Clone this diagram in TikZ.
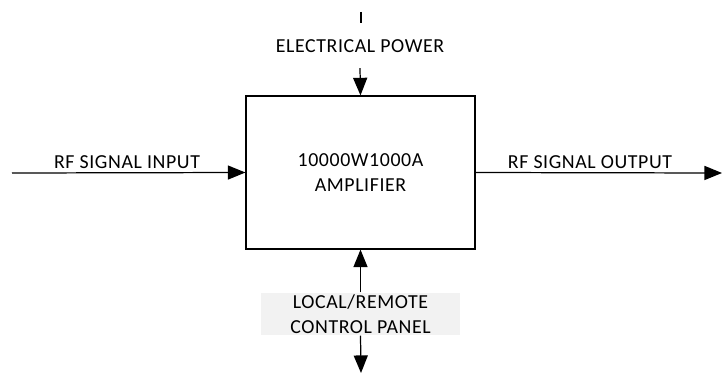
\documentclass[tikz,border=0pt]{standalone}
\usepackage{fontspec}
\setmainfont[LetterSpace=3]{Carlito}
\usetikzlibrary{arrows.meta}
\definecolor{panelgray}{HTML}{F2F2F2}

\begin{document}
\begin{tikzpicture}[x=0.02cm,y=-0.02cm,line width=0.7pt,
  font=\fontsize{11.3}{14.2}\selectfont,
  flow/.style={-{Triangle[length=10pt,width=8pt]}},
  blockbox/.style={draw,minimum width=4.58cm,minimum height=3.06cm,align=center,inner sep=0pt},
  label/.style={inner sep=0pt,align=center}]
\useasboundingbox (0,0) rectangle (722,375);
\coordinate (tickA) at (361,12); \coordinate (tickB) at (361,23);
\coordinate (inL) at (12,173); \coordinate (outR) at (722,173);
\coordinate (panelEnd) at (361,373);
\node[blockbox] (amp) at (360.5,172.5) {10000W1000A\\AMPLIFIER};
\node[label] (power) at (360,46) {ELECTRICAL POWER};
\node[label] (rfin) at (127,162) {RF SIGNAL INPUT};
\node[label] (rfout) at (590,162) {RF SIGNAL OUTPUT};
\node[label,fill=panelgray,minimum width=3.98cm,minimum height=0.84cm] (panel) at (360.5,314) {LOCAL/REMOTE\\CONTROL PANEL};
\draw (tickA)--(tickB);
\draw[flow] ([yshift=-0.3cm]power.south) -- (amp.north);
\draw[flow] (inL) -- (amp.west);
\draw[flow] (amp.east) -- (outR);
\draw[flow] (panel.north) -- (amp.south);
\draw[flow] (panel.south) -- (panelEnd);
\end{tikzpicture}
\end{document}
